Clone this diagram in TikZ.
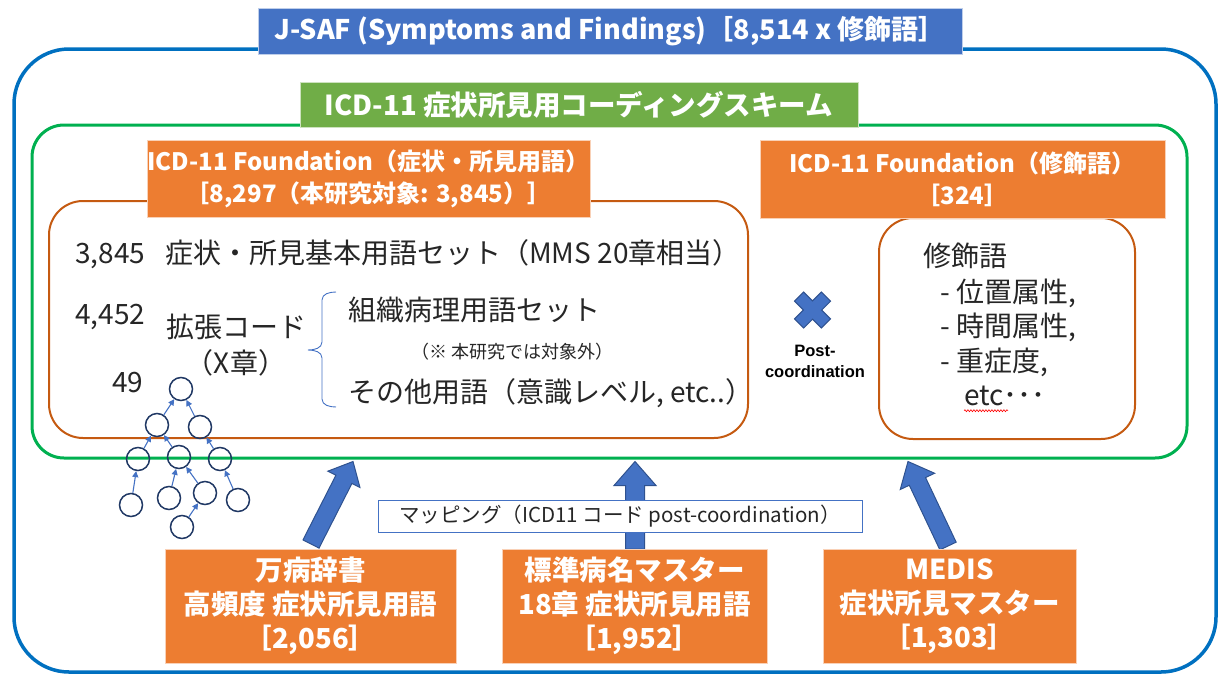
\documentclass[tikz,border=0pt]{standalone}
\usepackage{fontspec}
\setmainfont{Noto Sans CJK JP}
\newfontfamily\lsans{Liberation Sans}
\usetikzlibrary{calc,arrows.meta,decorations.pathmorphing}
\definecolor{tblue}{HTML}{4472C4}
\definecolor{oblue}{HTML}{0070C0}
\definecolor{lgreen}{HTML}{00B050}
\definecolor{tgreen}{HTML}{70AD47}
\definecolor{torange}{HTML}{ED7D31}
\definecolor{lorange}{HTML}{C55A11}
\definecolor{aborder}{HTML}{2F528F}
\definecolor{cnavy}{HTML}{203864}
\definecolor{txt}{HTML}{262626}
\newcommand{\blkarrow}[5]{% start, end, shaft half, head half, head length
  \coordinate (hb) at ($(#2)!#5!(#1)$);
  \filldraw[blockarr] ($(#1)!#3!90:(#2)$) -- ($(hb)!#3!90:(#2)$) -- ($(hb)!#4!90:(#2)$) -- (#2)
     -- ($(hb)!#4!-90:(#2)$) -- ($(hb)!#3!-90:(#2)$) -- ($(#1)!#3!-90:(#2)$) -- cycle;
}
\begin{document}
\begin{tikzpicture}[x=1pt,y=-1pt,
  titlebox/.style={fill=#1, draw=white!65!#1, line width=0.8pt, inner sep=0, text=white,
    font=\bfseries\fontsize{24}{32}\selectfont, align=center},
  body/.style={text=txt, font=\fontsize{28}{30}\selectfont, inner sep=0, text height=24pt, text depth=3pt},
  smalltxt/.style={text=txt, font=\fontsize{18}{20}\selectfont, inner sep=0, text height=15pt, text depth=2pt},
  treenode/.style={circle, draw=cnavy, line width=1.5pt, minimum size=23pt, inner sep=0},
  treearr/.style={draw=tblue, line width=1.1pt, -{Triangle[length=6pt,width=6pt]}},
  blockarr/.style={fill=tblue, draw=aborder, line width=1pt, line join=miter},
]
\useasboundingbox (0,0) rectangle (1220,675);
% frames
\node[draw=oblue, line width=3.5pt, rounded corners=55pt, inner sep=0, minimum width=1202pt, minimum height=623pt] (outer) at (615,360.5) {};
\node[draw=lgreen, line width=3pt, rounded corners=32pt, inner sep=0, minimum width=1155pt, minimum height=333pt] (green) at (609.5,291.5) {};
\node[draw=lorange, line width=2pt, rounded corners=34pt, inner sep=0, minimum width=699pt, minimum height=237pt] (obox1) at (398.5,319.5) {};
\node[draw=lorange, line width=2pt, rounded corners=34pt, inner sep=0, minimum width=256pt, minimum height=221pt] (obox2) at (1007,328.5) {};
% titles
\node[titlebox=tblue, minimum width=704pt, minimum height=46pt, font=\bfseries\fontsize{27}{32}\selectfont] (tjsaf) at (610,31) {J-SAF (Symptoms and Findings)［8,514 x 修飾語］};
\node[titlebox=tgreen, minimum width=558pt, minimum height=45pt, font=\bfseries\fontsize{27.5}{32}\selectfont] (ticd) at (579,104.5) {ICD-11 症状所見用コーディングスキーム};
\node[titlebox=torange, minimum width=443pt, minimum height=77pt] (tfound1) at (368.5,178.5) {ICD-11 Foundation（症状・所見用語）\\［8,297（本研究対象: 3,845）］};
\node[titlebox=torange, minimum width=405pt, minimum height=78pt] (tfound2) at (962.5,179) {ICD-11 Foundation（修飾語）\\［324］};
% left box text
\node[body, anchor=west] (n1) at (75,253) {3,845};
\node[body, anchor=west] (s1) at (165,253) {症状・所見基本用語セット（MMS 20章相当）};
\node[body, anchor=west] (n2) at (75,314) {4,452};
\node[body, anchor=west] (ext) at (166,327) {拡張コード};
\node[body] (xch) at (236,363) {（X章）};
\node[body, anchor=west] (n3) at (112,382) {49};
\node[body, anchor=west] (sosh) at (348,310) {組織病理用語セット};
\node[smalltxt, anchor=west] (note) at (411,352) {（※ 本研究では対象外）};
\node[body, anchor=west] (other) at (348,392) {その他用語（意識レベル, etc..）};
\draw[tblue, line width=0.9pt] (336,292) to[out=180,in=90] (322,300) -- (322,342) to[out=-90,in=0] (308,350)
   to[out=0,in=90] (322,358) -- (322,399) to[out=-90,in=180] (336,407);
% cross + post-coordination
\begin{scope}[shift={(812.5,310)}, rotate=45]
  \filldraw[fill=tblue, draw=aborder, line width=1pt]
   (6.5,6.5) -- (19,6.5) -- (19,-6.5) -- (6.5,-6.5) -- (6.5,-19) -- (-6.5,-19) -- (-6.5,-6.5)
   -- (-19,-6.5) -- (-19,6.5) -- (-6.5,6.5) -- (-6.5,19) -- (6.5,19) -- cycle;
\end{scope}
\node[font=\lsans\bfseries\fontsize{16.5}{21}\selectfont, align=center, inner sep=0] (pc) at (815,361) {Post-\\coordination};
% right box text
\node[body, anchor=west] (mod) at (923,256) {修飾語};
\node[body, anchor=west] (m1) at (940,292) {- 位置属性,};
\node[body, anchor=west] (m2) at (940,326) {- 時間属性,};
\node[body, anchor=west] (m3) at (940,361) {- 重症度,};
\node[body, anchor=west] (m4) at (964,395) {etc･･･};
\draw[red, line width=0.6pt, decorate, decoration={snake, amplitude=1pt, segment length=3pt}] (m4.south west) ++(0,2) -- ++(44,0);
% tree
\node[treenode] (t1) at (181,389) {};
\node[treenode] (t2) at (157,425) {};
\node[treenode] (t3) at (200,427) {};
\node[treenode] (t4) at (138,459) {};
\node[treenode] (t5) at (179,457) {};
\node[treenode] (t6) at (220,459) {};
\node[treenode] (t7) at (131,505) {};
\node[treenode] (t8) at (169,498) {};
\node[treenode] (t9) at (205,493) {};
\node[treenode] (t10) at (238,500) {};
\node[treenode] (t11) at (182,527) {};
\foreach \c/\p in {t2/t1,t3/t1,t4/t2,t5/t2,t6/t3,t7/t4,t8/t5,t9/t5,t10/t6,t11/t9}
  \draw[treearr] (\c) -- (\p);
% arrows
\coordinate (x1) at (353,0);
\coordinate (x2) at (635,0);
\coordinate (x3) at (908,0);
\coordinate (a1s) at (311,544);
\coordinate (a2s) at (635,549);
\coordinate (a3s) at (948,546);
\coordinate (a1e) at ($(x1 |- green.south)+(0,2)$);
\coordinate (a2e) at ($(x2 |- green.south)+(0,2)$);
\coordinate (a3e) at ($(x3 |- green.south)+(0,2)$);
\blkarrow{a1s}{a1e}{9pt}{18pt}{20pt}
\blkarrow{a2s}{a2e}{9.5pt}{21pt}{24pt}
\blkarrow{a3s}{a3e}{9pt}{19pt}{22pt}
\node[draw=tblue, fill=white, line width=1pt, minimum width=484pt, minimum height=32pt, inner sep=0,
  text=txt, font=\fontsize{20.5}{22}\selectfont] (map) at (620,516) {マッピング（ICD11 コード post-coordination）};
% bottom boxes
\node[titlebox=torange, minimum width=291pt, minimum height=114pt, font=\bfseries\fontsize{27.5}{34}\selectfont] (b1) at (310.5,606) {万病辞書\\高頻度 症状所見用語\\［2,056］};
\node[titlebox=torange, minimum width=265pt, minimum height=114pt, font=\bfseries\fontsize{27.5}{34}\selectfont] (b2) at (634.5,606) {標準病名マスター\\18章 症状所見用語\\［1,952］};
\node[titlebox=torange, minimum width=253pt, minimum height=114pt, font=\bfseries\fontsize{27.5}{34}\selectfont] (b3) at (949.5,606) {MEDIS\\症状所見マスター\\［1,303］};
\end{tikzpicture}
\end{document}
